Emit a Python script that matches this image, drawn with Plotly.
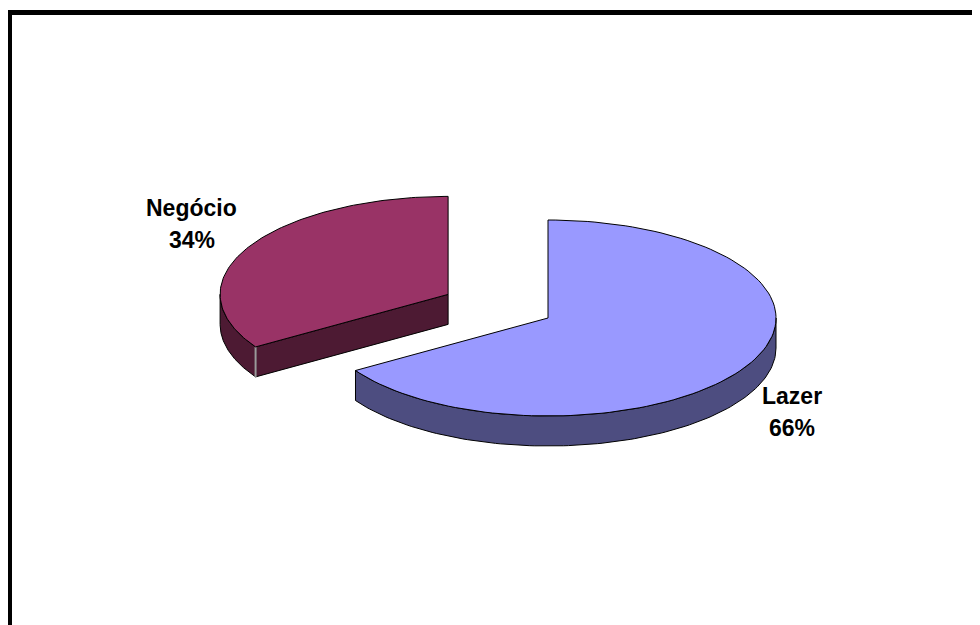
import math
import plotly.graph_objects as go

# ---- data ----
categories = ["Lazer", "Negócio"]
values = [66, 34]
pct_labels = ["66%", "34%"]
top_colors = ["#9999FF", "#993366"]
side_colors = ["#4D4D80", "#4D1A33"]
exploded = [False, True]

# ---- geometry (screen-like units) ----
CX, CY = 548, 318      # pie centre (top face)
RX, RY = 228, 98       # ellipse radii
DEPTH = 30             # thickness of the pie
PULL = 0.5             # explode fraction
START = 90.0           # first slice starts at 12 o'clock, goes clockwise

W, H = 980, 625
OFF = 8                # page body margin compensation


def pt(cx, cy, a, dz=0.0):
    r = math.radians(a)
    return cx + RX * math.cos(r), cy - RY * math.sin(r) + dz


def arc(cx, cy, a0, a1, dz=0.0, n=120):
    xs, ys = [], []
    for i in range(n + 1):
        a = a0 + (a1 - a0) * i / n
        x, y = pt(cx, cy, a, dz)
        xs.append(x)
        ys.append(y)
    return xs, ys


total = sum(values)
slices = []
ang = START
for cat, v, tc, sc, ex in zip(categories, values, top_colors, side_colors, exploded):
    span = 360.0 * v / total
    a1 = ang            # ccw upper bound
    a0 = ang - span     # ccw lower bound
    mid = (a0 + a1) / 2
    cx, cy = CX, CY
    if ex:
        cx += PULL * RX * math.cos(math.radians(mid))
        cy -= PULL * RY * math.sin(math.radians(mid))
    slices.append(dict(cat=cat, a0=a0, a1=a1, cx=cx, cy=cy, tc=tc, sc=sc))
    ang = a0

fig = go.Figure()


def poly(xs, ys, fill, line_color="black", width=1):
    fig.add_trace(go.Scatter(x=xs, y=ys, mode="lines", fill="toself",
                             fillcolor=fill,
                             line=dict(color=line_color, width=width),
                             hoverinfo="skip", showlegend=False))


# painter's order: back slices first
for s in sorted(slices, key=lambda d: d["cy"]):
    a0, a1, cx, cy = s["a0"], s["a1"], s["cx"], s["cy"]
    # curved front side: parts where sin(angle) < 0
    for k in range(-1, 2):
        lo = max(a0, 180 + 360 * k)
        hi = min(a1, 360 + 360 * k)
        if hi > lo:
            tx, ty = arc(cx, cy, lo, hi)
            bx, by = arc(cx, cy, lo, hi, DEPTH)
            poly(tx + bx[::-1] + [tx[0]], ty + by[::-1] + [ty[0]], s["sc"])
    # radial faces
    for a, nrm in ((a0, a0 - 90), (a1, a1 + 90)):
        if math.sin(math.radians(nrm)) < -1e-6:
            px, py = pt(cx, cy, a)
            xs = [cx, px, px, cx, cx]
            ys = [cy, py, py + DEPTH, cy + DEPTH, cy]
            poly(xs, ys, s["sc"])
            fig.add_trace(go.Scatter(x=[px, px], y=[py, py + DEPTH], mode="lines",
                                     line=dict(color="#9A9A9A", width=2),
                                     hoverinfo="skip", showlegend=False))
    # top face
    tx, ty = arc(cx, cy, a0, a1)
    poly([cx] + tx + [cx], [cy] + ty + [cy], s["tc"])

# labels
label_pos = {"Lazer": (791.5, 396, 428), "Negócio": (191.5, 208, 240)}
font = dict(family="Liberation Sans, Arial, sans-serif", size=23, color="black")
for cat, p in zip(categories, pct_labels):
    x, y1, y2 = label_pos[cat]
    fig.add_annotation(x=x, y=y1, text="<b>%s</b>" % cat, showarrow=False,
                       xanchor="center", yanchor="middle", font=font)
    fig.add_annotation(x=x, y=y2, text="<b>%s</b>" % p, showarrow=False,
                       xanchor="center", yanchor="middle", font=font)

# chart-area border (right/bottom edges fall outside the picture)
fig.add_shape(type="rect", x0=9.5, y0=12.5, x1=W + 40, y1=H + 40,
              line=dict(color="black", width=5), fillcolor="rgba(0,0,0,0)")

fig.update_layout(
    width=W, height=H,
    margin=dict(l=0, r=0, t=0, b=0),
    paper_bgcolor="white", plot_bgcolor="white",
    xaxis=dict(range=[OFF, W + OFF], visible=False, fixedrange=True),
    yaxis=dict(range=[H + OFF, OFF], visible=False, fixedrange=True),
    showlegend=False,
)

fig.write_html("out.html")
